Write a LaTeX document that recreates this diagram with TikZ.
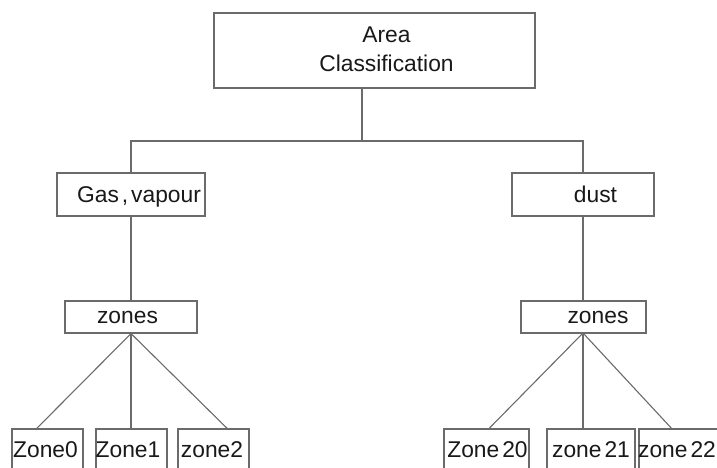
\documentclass[tikz,border=0pt]{standalone}
\usepackage{fontspec}
\setmainfont{Liberation Sans}
\usetikzlibrary{calc}
\newcommand{\nsp}{\hspace{0.13em}}
\tikzset{
  x=1pt, y=-1pt,
  box/.style={draw=black!58, line width=1.1pt, inner sep=0pt, fill=white},
  lbl/.style={inner sep=0pt, anchor=base, text=black!90, font=\fontsize{22.8}{27}\selectfont},
  link/.style={draw=black!58, line width=1.1pt},
}
\begin{document}
\begin{tikzpicture}
\useasboundingbox (0,0) rectangle (717,468);
\clip (0,0) rectangle (717,468);
\fill[white] (0,0) rectangle (717,468);
% boxes
\node[box, minimum width=321pt, minimum height=75pt] (top) at (374.5,50.5) {};
\node[box, minimum width=148pt, minimum height=43pt] (gas) at (131,194.5) {};
\node[box, minimum width=142pt, minimum height=43pt] (dust) at (583,194.5) {};
\node[box, minimum width=132pt, minimum height=32pt] (zl) at (131,317) {};
\node[box, minimum width=125pt, minimum height=32pt] (zr) at (583.5,317) {};
\node[box, minimum width=71pt, minimum height=51pt] (z0) at (47.5,454.5) {};
\node[box, minimum width=71pt, minimum height=51pt] (z1) at (131.5,454.5) {};
\node[box, minimum width=71pt, minimum height=51pt] (z2) at (213.5,454.5) {};
\node[box, minimum width=85pt, minimum height=51pt] (z20) at (486.5,454.5) {};
\node[box, minimum width=88pt, minimum height=51pt] (z21) at (591,454.5) {};
\node[box, minimum width=91pt, minimum height=51pt] (z22) at (684.5,454.5) {};
% texts
\node[lbl] (tA) at (386.5,43) {Area};
\node[lbl] (tC) at (386.5,72) {Classification};
\node[lbl] (tG) at (139,202) {Gas\nsp,\nsp vapour};
\node[lbl] (tD) at (595.5,202) {dust};
\node[lbl] (tZL) at (127.5,323) {zones};
\node[lbl] (tZR) at (598,323) {zones};
\node[lbl] (t0) at (45.5,457) {Zone0};
\node[lbl] (t1) at (128,457) {Zone1};
\node[lbl] (t2) at (212,457) {zone2};
\node[lbl] (t20) at (487.5,457) {Zone\nsp 20};
\node[lbl] (t21) at (591,457) {zone\nsp 21};
\node[lbl] (t22) at (677,457) {zone\nsp 22};
% connectors
\coordinate (j) at (362,141);
\coordinate (hl) at (131,141);
\coordinate (hr) at (583,141);
\draw[link] (top.south -| j) -- (j);
\draw[link] (gas.north) -- (hl) -- (hr) -- (dust.north);
\draw[link] (gas.south) -- (zl.north);
\draw[link] (dust.south) -- (dust.south |- zr.north);
\coordinate (fr) at (583,333);
\draw[link] (zl.south) -- ($(z0.north west)!0.35!(z0.north east)$);
\draw[link] (zl.south) -- (zl.south |- z1.north);
\draw[link] (zl.south) -- ($(z2.north west)!0.69!(z2.north east)$);
\draw[link] (fr) -- ($(z20.north west)!0.53!(z20.north east)$);
\draw[link] (fr) -- (fr |- z21.north);
\draw[link] (fr) -- ($(z22.north west)!0.36!(z22.north east)$);
\end{tikzpicture}
\end{document}
